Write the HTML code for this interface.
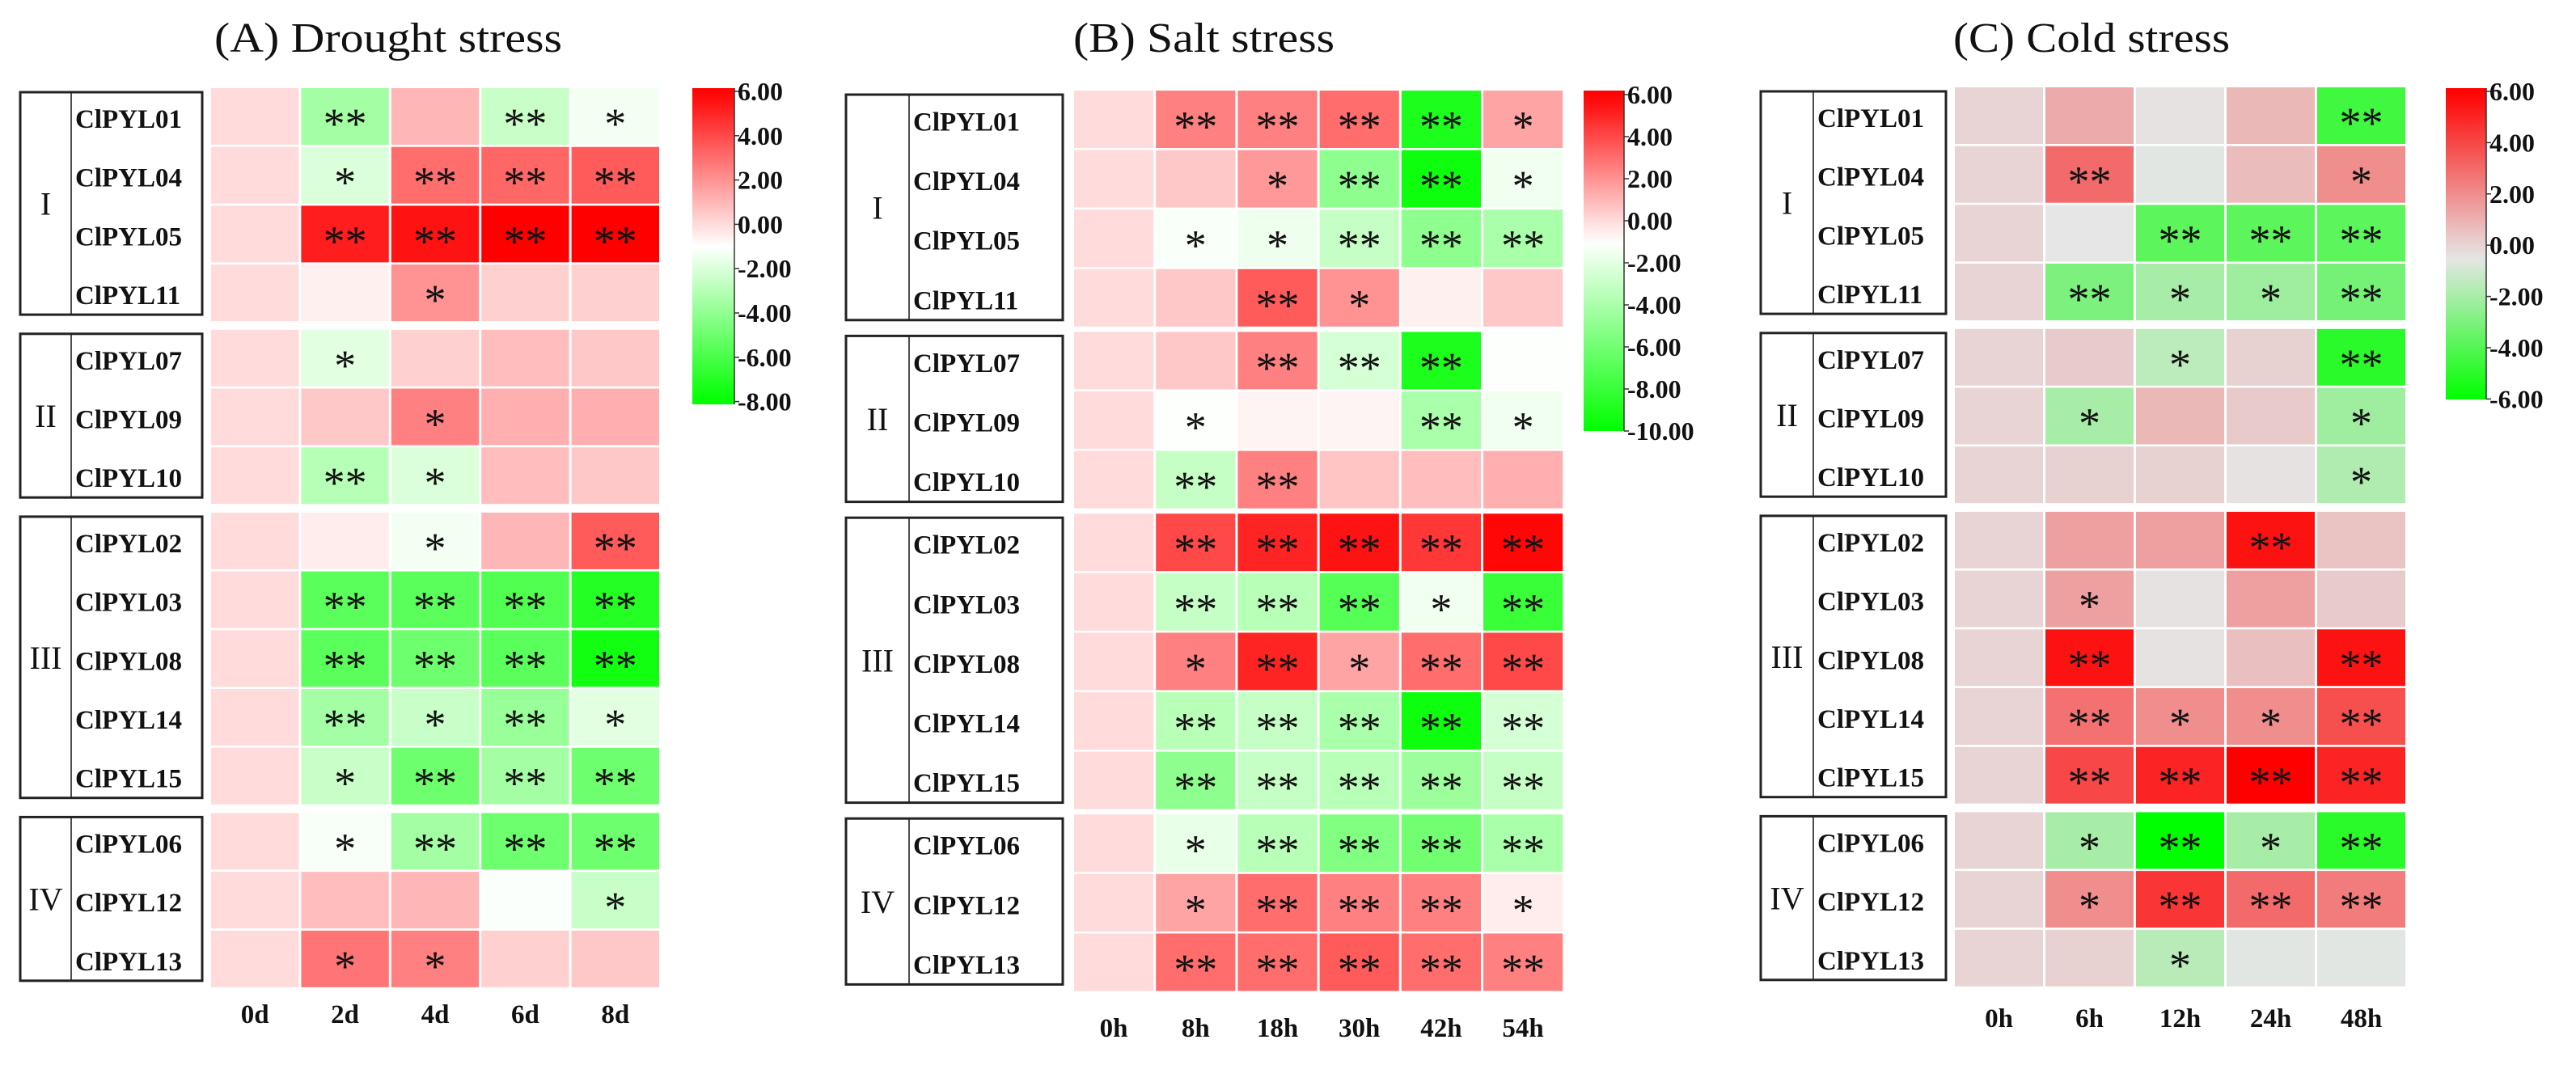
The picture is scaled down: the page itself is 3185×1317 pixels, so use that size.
<!DOCTYPE html>
<html><head><meta charset="utf-8"><style>
html,body{margin:0;padding:0;background:#fff;}
svg{display:block;}
text{font-family:"Liberation Serif",serif;}
</style></head><body>
<svg id="fig" width="3185" height="1317" viewBox="0 0 3185 1317" xmlns="http://www.w3.org/2000/svg"></svg>
<script>
const genes = ["ClPYL01","ClPYL04","ClPYL05","ClPYL11","ClPYL07","ClPYL09","ClPYL10","ClPYL02","ClPYL03","ClPYL08","ClPYL14","ClPYL15","ClPYL06","ClPYL12","ClPYL13"];
const groupNames = ["I","II","III","IV"];
const groupSizes = [4,3,5,3];

const droughtTimes = ["0d","2d","4d","6d","8d"];
const droughtValues = [
[0,-3.5,1,-2.5,-1.3],[0,-2,3,3.2,3.5],[0,5.2,5.5,6,6],[0,-0.6,2,0.3,0.3],
[0,-1.8,0.3,0.8,0.5],[0,0.5,2.5,1.2,1.2],[0,-3,-2,0.8,0.5],
[0,-0.5,-1.3,1,3.5],[0,-5.5,-5.5,-5.8,-7],[0,-5.5,-5,-5.5,-7.5],[0,-3.5,-2.5,-3.8,-1.8],[0,-2.5,-5,-3.5,-5],
[0,-1.2,-3.5,-5,-5],[0,0.8,1,-1.1,-2.5],[0,2.8,2.5,0.3,0.5]];
const droughtSig = [
["","**","","**","*"],["","*","**","**","**"],["","**","**","**","**"],["","","*","",""],
["","*","","",""],["","","*","",""],["","**","*","",""],
["","","*","","**"],["","**","**","**","**"],["","**","**","**","**"],["","**","*","**","*"],["","*","**","**","**"],
["","*","**","**","**"],["","","","","*"],["","*","*","",""]];
const droughtTicks = ["6.00","4.00","2.00","0.00","-2.00","-4.00","-6.00","-8.00"];

const saltTimes = ["0h","8h","18h","30h","42h","54h"];
const saltValues = [
[0,2.5,2.5,3,-9,1.5],[0,0.5,1.8,-5,-9.5,-1.5],[0,-1.2,-1.6,-3,-5,-4],[0,0.5,3.5,2,-0.6,0.5],
[0,0.5,2.5,-2.5,-9,-1.1],[0,-1.1,-0.7,-0.7,-4,-1.5],[0,-3,2.5,0.6,0.8,1.2],
[0,4,5,5.5,4.5,5.8],[0,-3,-3.5,-7,-1.5,-8],[0,2.5,5,1.5,3,4],[0,-3.5,-3,-4,-9.5,-2.5],[0,-5,-3,-3.5,-4.5,-3],
[0,-1.8,-3.5,-5.5,-6,-4],[0,1.5,3,2.5,2.5,-0.5],[0,3,3,3.5,3,2.5]];
const saltSig = [
["","**","**","**","**","*"],["","","*","**","**","*"],["","*","*","**","**","**"],["","","**","*","",""],
["","","**","**","**",""],["","*","","","**","*"],["","**","**","","",""],
["","**","**","**","**","**"],["","**","**","**","*","**"],["","*","**","*","**","**"],["","**","**","**","**","**"],["","**","**","**","**","**"],
["","*","**","**","**","**"],["","*","**","**","**","*"],["","**","**","**","**","**"]];
const saltTicks = ["6.00","4.00","2.00","0.00","-2.00","-4.00","-6.00","-8.00","-10.00"];

const coldTimes = ["0h","6h","12h","24h","48h"];
const coldValues = [
[0,1.2,-0.4,0.8,-4.5],[0,3,-0.6,0.7,2],[0,-0.5,-3.8,-3.8,-3.8],[0,-3,-2,-2.2,-3.2],
[0,0.3,-1.5,0.1,-5],[0,-2,0.8,0.3,-2.2],[0,0.1,0.1,-0.4,-1.8],
[0,1.5,1.5,5.5,0.5],[0,1.5,-0.4,1.5,0.3],[0,5.5,-0.4,0.6,5.5],[0,2.8,2,2,3.8],[0,4,5,6,5],
[0,-2,-6,-2,-5],[0,2,4.5,3,2.5],[0,0.1,-1.6,-0.6,-0.6]];
const coldSig = [
["","","","","**"],["","**","","","*"],["","","**","**","**"],["","**","*","*","**"],
["","","*","","**"],["","*","","","*"],["","","","","*"],
["","","","**",""],["","*","","",""],["","**","","","**"],["","**","*","*","**"],["","**","**","**","**"],
["","*","**","*","**"],["","*","**","**","**"],["","","*","",""]];
const coldTicks = ["6.00","4.00","2.00","0.00","-2.00","-4.00","-6.00"];

const NS = "http://www.w3.org/2000/svg";
const svg = document.getElementById("fig");
function el(tag, attrs, parent){ const e=document.createElementNS(NS,tag); for(const k in attrs) e.setAttribute(k,attrs[k]); (parent||svg).appendChild(e); return e; }
function hex(c){return [parseInt(c.slice(1,3),16),parseInt(c.slice(3,5),16),parseInt(c.slice(5,7),16)];}
function makeScale(min,mid,max,cMin,cMid,cMax){
  const a=hex(cMin),b=hex(cMid),c=hex(cMax);
  return v=>{ let f,p,q; if(v<=mid){f=(v-min)/(mid-min);p=a;q=b;} else {f=(v-mid)/(max-mid);p=b;q=c;}
    f=Math.max(0,Math.min(1,f)); return "rgb("+p.map((x,i)=>Math.round(x+(q[i]-x)*f)).join(",")+")"; };
}

const panels = [
 {key:"drought",title:"(A) Drought  stress",tx:265,tw:430,times:droughtTimes,vals:droughtValues,sig:droughtSig,ticks:droughtTicks,
  x0:261,colW:111.4,y0:109,pitch:72.7,gap:8,h:70,boxL:25,boxDiv:88,boxR:250,labY:1265,
  cb:{x:856,w:52,top:109,bot:500,vmax:6,vmin:-8,y6:113,unit:27.4},
  scale:makeScale(-8,-1,6,"#00ff00","#ffffff","#ff0000")},
 {key:"salt",title:"(B) Salt stress",tx:1327,tw:323,times:saltTimes,vals:saltValues,sig:saltSig,ticks:saltTicks,
  x0:1328,colW:101.2,y0:112,pitch:73.6,gap:4,h:71,boxL:1046,boxDiv:1124,boxR:1314,labY:1282,
  cb:{x:1958,w:50,top:112,bot:533,vmax:6,vmin:-10,y6:117,unit:26},
  scale:makeScale(-10,-1,6,"#00ff00","#ffffff","#ff0000")},
 {key:"cold",title:"(C) Cold stress",tx:2415,tw:342,times:coldTimes,vals:coldValues,sig:coldSig,ticks:coldTicks,
  x0:2417,colW:112,y0:108,pitch:72.7,gap:8,h:70,boxL:2177,boxDiv:2242,boxR:2406,labY:1270,
  cb:{x:3024,w:50,top:109,bot:494,vmax:6,vmin:-6,y6:113,unit:31.7},
  scale:makeScale(-6,-0.5,6,"#00ff00","#e6e6e6","#ff0000")}
];

panels.forEach(P=>{
  const g = el("g",{});
  
  
  const t = el("text",{x:P.tx,y:64,"font-size":52,textLength:P.tw,lengthAdjust:"spacingAndGlyphs",fill:"#111"},g);
  t.textContent = P.title;
  
  
  // row positions
  const rowY=[]; let gi=0,cnt=0;
  for(let r=0;r<genes.length;r++){
    rowY.push(P.y0 + r*P.pitch + gi*P.gap);
    cnt++; if(cnt===groupSizes[gi]){gi++;cnt=0;}
  }
  // cells
  P.vals.forEach((row,r)=>{
    row.forEach((v,c)=>{
      const x=P.x0+c*P.colW, y=rowY[r];
      const rc=el("rect",{x:x,y:y,width:P.colW-3,height:P.h,fill:P.scale(v)},g);
      
      
      const s=P.sig[r][c];
      if(s){
        const st=el("text",{x:x+(P.colW-3)/2,y:y+P.h/2+27,"font-size":54,"text-anchor":"middle",fill:"#111"},g);
        st.textContent=s;
        
        
      }
    });
    const gl=el("text",{x:P.boxDiv+5,y:rowY[r]+P.h/2+14,"font-size":33,"font-weight":"bold",fill:"#111"},g);
    gl.textContent=genes[r];
    
    
  });
  // group boxes
  let start=0;
  groupSizes.forEach((n,k)=>{
    const top=rowY[start]+5, bot=rowY[start+n-1]+P.h-8;
    const b=el("rect",{x:P.boxL,y:top,width:P.boxR-P.boxL,height:bot-top,fill:"none",stroke:"#222","stroke-width":3},g);
    
    
    el("line",{x1:P.boxDiv,x2:P.boxDiv,y1:top,y2:bot,stroke:"#222","stroke-width":1.6},g);
    const rn=el("text",{x:(P.boxL+P.boxDiv)/2,y:(top+bot)/2+14,"font-size":40,"text-anchor":"middle",fill:"#111"},g);
    rn.textContent=groupNames[k];
    
    
    start+=n;
  });
  // x labels
  P.times.forEach((tm,c)=>{
    const xl=el("text",{x:P.x0+c*P.colW+(P.colW-3)/2,y:P.labY,"font-size":33,"font-weight":"bold","text-anchor":"middle",fill:"#111"},g);
    xl.textContent=tm;
    
    
  });
  // colorbar
  const cb=P.cb;
  const gid="grad-"+P.key;
  const defs=el("defs",{},g);
  const lg=el("linearGradient",{id:gid,x1:0,y1:0,x2:0,y2:1},defs);
  const yTop=cb.top, yBot=cb.bot;
  for(let i=0;i<=20;i++){
    const yy=yTop+(yBot-yTop)*i/20;
    const v=cb.vmax-(yy-cb.y6)/cb.unit;
    el("stop",{offset:(i/20),"stop-color":P.scale(v)},lg);
  }
  const bar=el("rect",{x:cb.x,y:yTop,width:cb.w,height:yBot-yTop,fill:"url(#"+gid+")"},g);
  
  
  el("line",{x1:cb.x+cb.w,x2:cb.x+cb.w,y1:yTop,y2:yBot,stroke:"#333","stroke-width":1.5},g);
  P.ticks.forEach(tk=>{
    const yy=cb.y6+(cb.vmax-parseFloat(tk))*cb.unit;
    el("line",{x1:cb.x+cb.w,x2:cb.x+cb.w+6,y1:yy,y2:yy,stroke:"#333","stroke-width":1.5},g);
    const tl=el("text",{x:cb.x+cb.w+4,y:yy+11,"font-size":32,"font-weight":"bold",fill:"#111"},g);
    tl.textContent=tk;
    
    
  });
});
</script>
</body></html>
